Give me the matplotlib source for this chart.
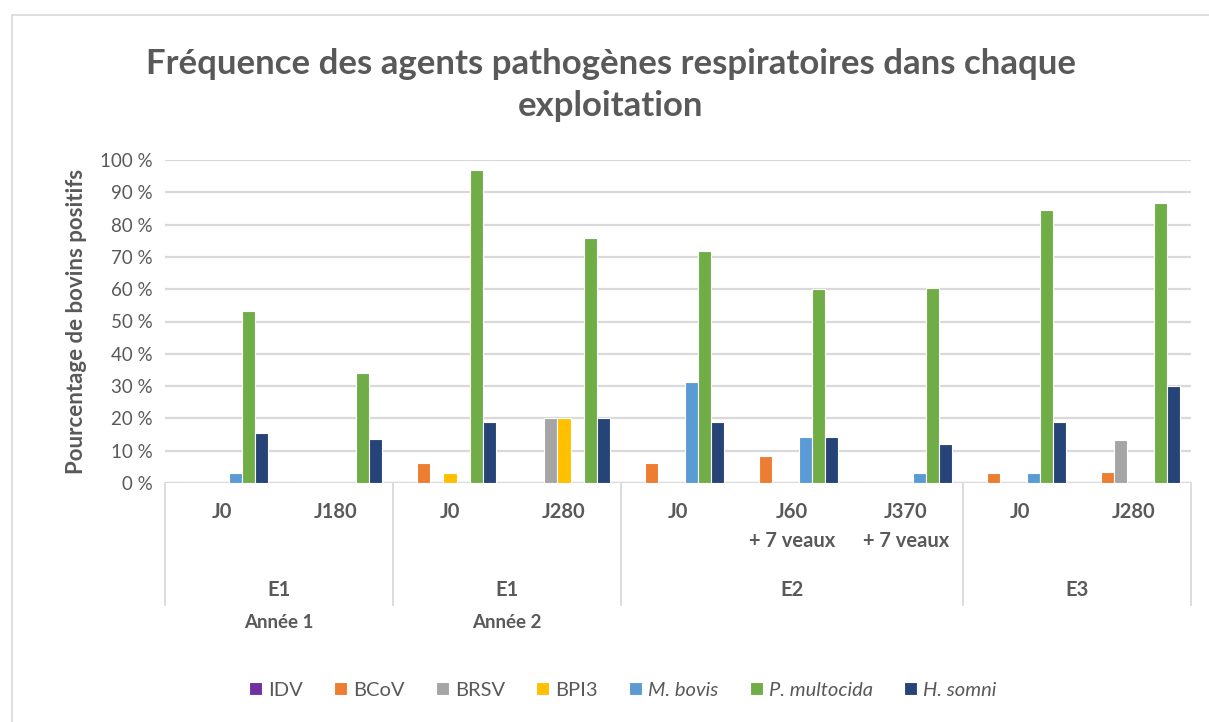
import numpy as np
import matplotlib
matplotlib.use("Agg")
import matplotlib.pyplot as plt
from matplotlib.patches import Rectangle
import matplotlib.transforms as mtransforms

# ---------------- data ----------------
time_labels = ["J0", "J180", "J0", "J280", "J0", "J60\n+ 7 veaux", "J370\n+ 7 veaux", "J0", "J280"]
farm_labels = ["E1", "E1", "E2", "E3"]
farm_sizes = [2, 2, 3, 2]
year_labels = ["Année 1", "Année 2", "", ""]

series_names = ["IDV", "BCoV", "BRSV", "BPI3", "M. bovis", "P. multocida", "H. somni"]
italic_series = [False, False, False, False, True, True, True]
idv         = [0, 0, 0, 0, 0, 0, 0, 0, 0]
bcov        = [0, 0, 6.2, 0, 6.2, 8.5, 0, 3.1, 3.3]
brsv        = [0, 0, 0, 20.0, 0, 0, 0, 0, 13.3]
bpi3        = [0, 0, 3.1, 20.0, 0, 0, 0, 0, 0]
m_bovis     = [3.1, 0, 0, 0, 31.2, 14.3, 3.0, 3.1, 0]
p_multocida = [53.1, 34.1, 96.9, 76.0, 71.9, 60.0, 60.5, 84.4, 86.7]
h_somni     = [15.6, 13.6, 18.8, 20.0, 18.8, 14.3, 12.0, 18.8, 30.0]
series_values = [idv, bcov, brsv, bpi3, m_bovis, p_multocida, h_somni]
colors = ["#7030A0", "#ED7D31", "#A5A5A5", "#FFC000", "#5B9BD5", "#70AD47", "#264478"]

yticks = list(range(0, 101, 10))

# ---------------- style ----------------
FONT = "Lato"
GREY = "#595959"
GRID = "#D9D9D9"
plt.rcParams["font.family"] = [FONT, "DejaVu Sans"]

W, H = 1209, 722
fig = plt.figure(figsize=(W / 100, H / 100), dpi=100)

# chart border
fig.patches.append(Rectangle((12 / W, -0.05), 1.1, (H - 15) / H + 0.05,
                             transform=fig.transFigure, fill=False,
                             edgecolor=GRID, linewidth=1.2))

left, right, top, bottom = 165, 1191, 160, 483
ax = fig.add_axes([left / W, (H - bottom) / H, (right - left) / W, (bottom - top) / H])

n = len(time_labels)
x = np.arange(n)
nser = len(series_names)
w = 0.8 / nser
for i, (name, vals, c) in enumerate(zip(series_names, series_values, colors)):
    ax.bar(x + (i - (nser - 1) / 2) * w, vals, w, color=c, edgecolor="white",
           linewidth=0.8, label=name, zorder=3)

ax.set_xlim(-0.5, n - 0.5)
ax.set_ylim(0, 100)
ax.set_yticks(yticks)
ax.set_yticklabels([f"{v} %" for v in yticks], color=GREY, fontsize=13.5)
ax.tick_params(axis="y", length=0, pad=9)
ax.set_xticks([])
ax.yaxis.grid(True, color=GRID, linewidth=1.6, zorder=0)
for s in ax.spines.values():
    s.set_visible(False)
ax.axhline(0, color=GRID, linewidth=1.6, zorder=2)

ax.set_ylabel("Pourcentage de bovins positifs", fontsize=16, fontweight="bold",
              color=GREY, labelpad=9)

# multi-level category axis
trans = mtransforms.blended_transform_factory(ax.transData, ax.transAxes)
hpx = bottom - top
def ypx(py):
    return -(py - bottom) / hpx

for i, lab in enumerate(time_labels):
    ax.text(i, ypx(502), lab, transform=trans, ha="center", va="top",
            fontsize=14.5, fontweight="bold", color=GREY, linespacing=1.55)

bounds = np.concatenate([[0], np.cumsum(farm_sizes)]) - 0.5
for b in bounds:
    ax.plot([b, b], [0, ypx(605)], transform=trans, color=GRID, linewidth=1.3,
            clip_on=False, zorder=1)
for k, (fl, yl) in enumerate(zip(farm_labels, year_labels)):
    cx = (bounds[k] + bounds[k + 1]) / 2
    ax.text(cx, ypx(590), fl, transform=trans, ha="center", va="center",
            fontsize=14.5, fontweight="bold", color=GREY)
    if yl:
        ax.text(cx, ypx(622), yl, transform=trans, ha="center", va="center",
                fontsize=13.5, fontweight="bold", color=GREY)

# title
fig.text(0.5 * (12 + W) / W, (H - 85) / H,
         "Fréquence des agents pathogènes respiratoires dans chaque\nexploitation",
         ha="center", va="center", fontsize=25, fontweight="bold", color=GREY,
         linespacing=1.4)

# legend
leg = fig.legend(loc="center", bbox_to_anchor=(0.5 * (12 + W) / W + 0.01, (H - 690) / H),
                 ncol=nser, frameon=False, fontsize=14.5, handlelength=0.65,
                 handleheight=0.65, handletextpad=0.3, columnspacing=1.55)
for t, it in zip(leg.get_texts(), italic_series):
    t.set_color(GREY)
    if it:
        t.set_style("italic")

fig.savefig("out.png", dpi=100)
